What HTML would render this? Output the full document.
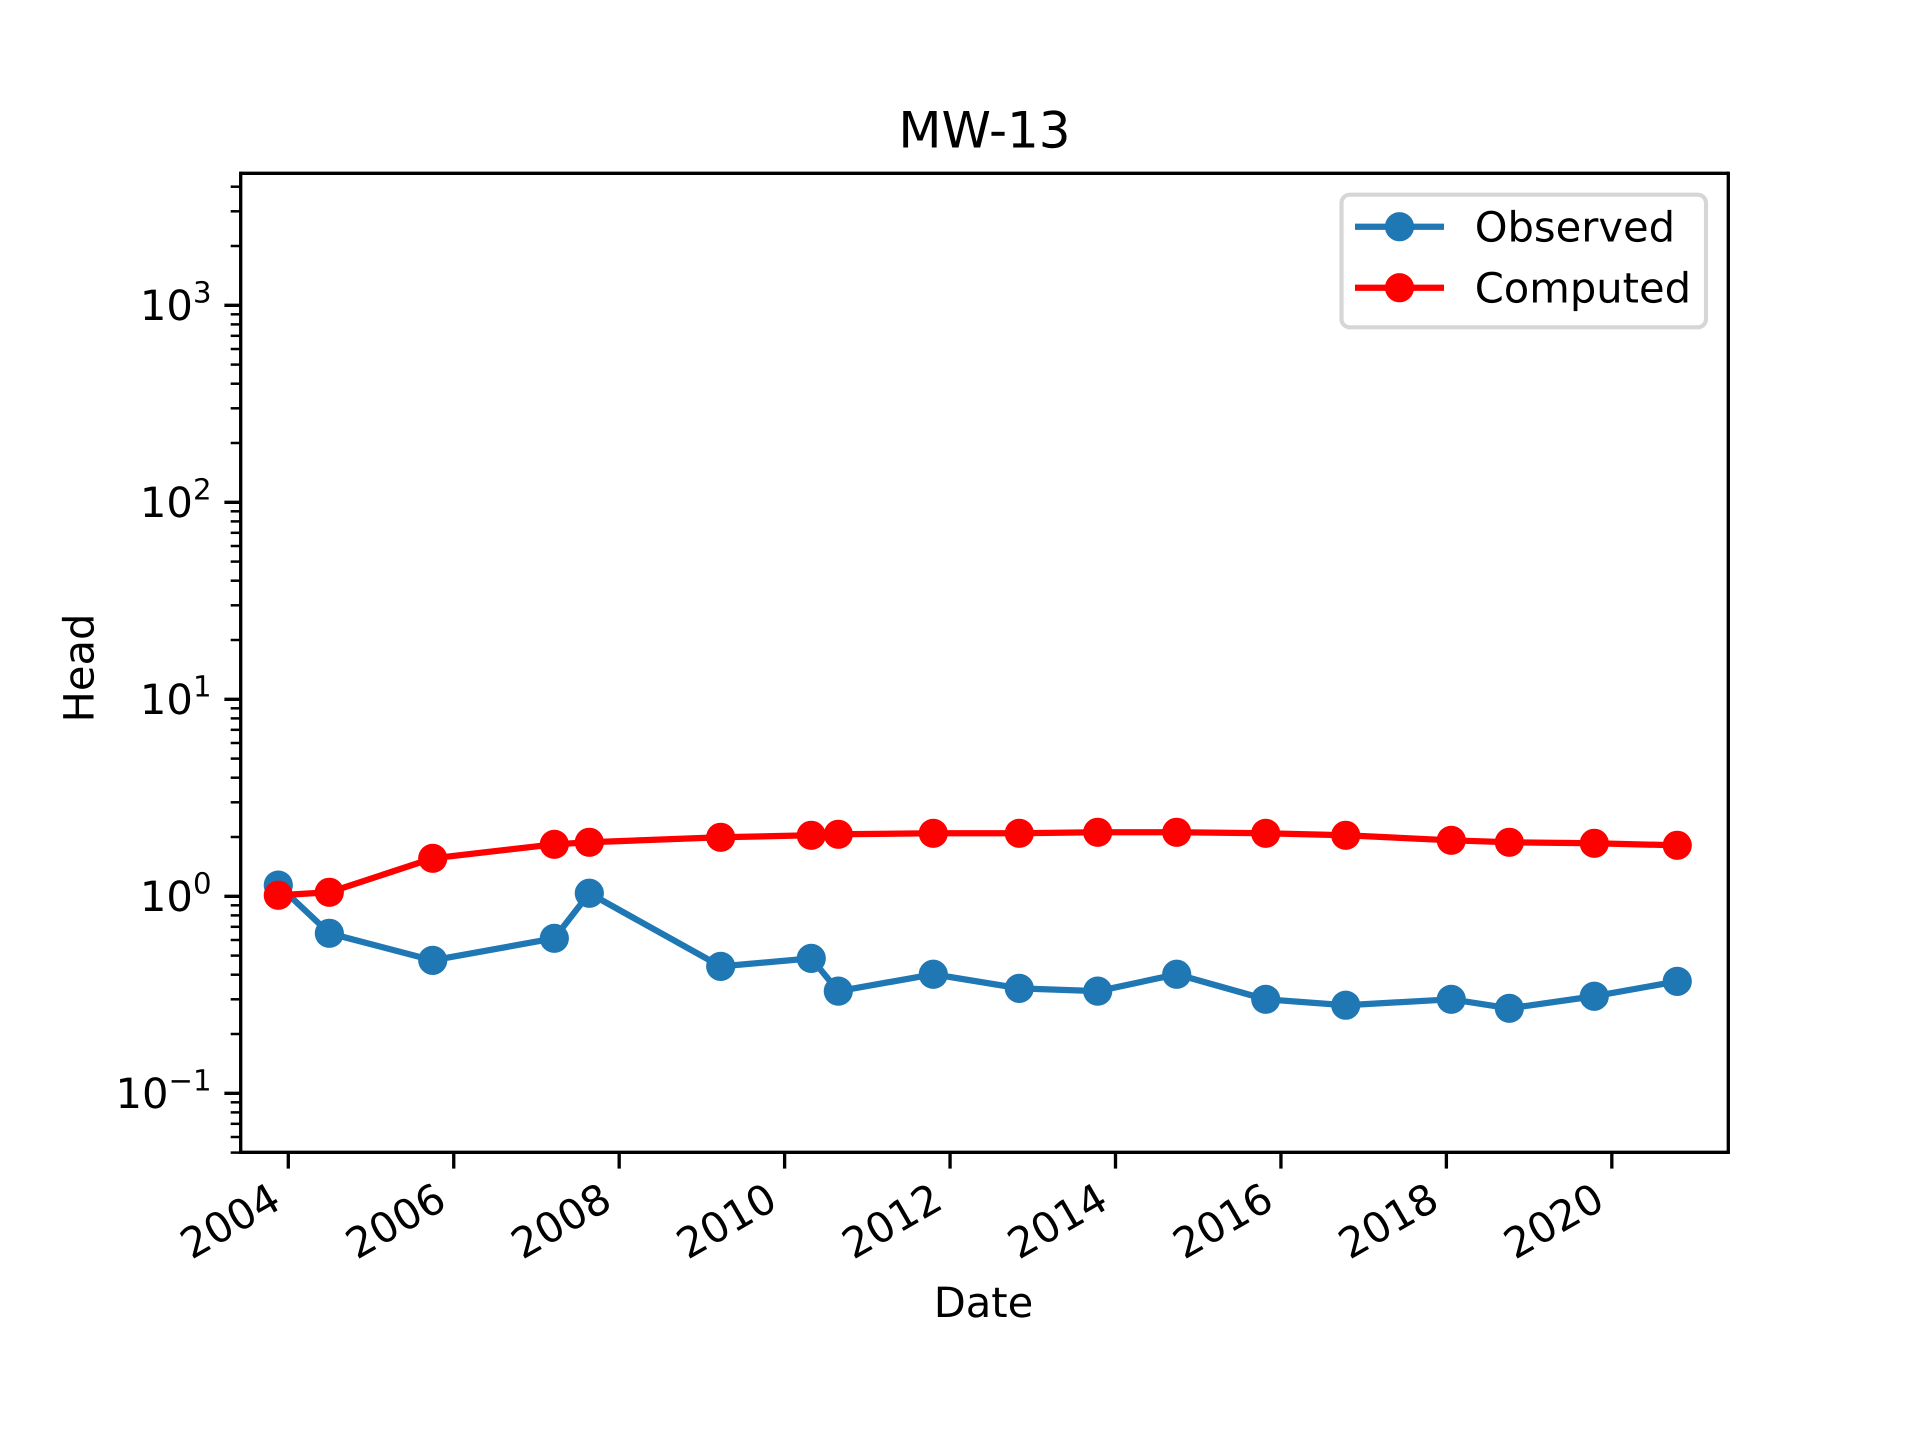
<!DOCTYPE html>
<html lang="en">
<head>
<meta charset="utf-8">
<title>MW-13</title>
<style>
html,body{margin:0;padding:0;background:#fff;width:1920px;height:1440px;overflow:hidden}
svg{display:block}
text{font-family:"DejaVu Sans","Liberation Sans",sans-serif;fill:#000;text-rendering:geometricPrecision}
</style>
</head>
<body>
<svg id="chart" xmlns="http://www.w3.org/2000/svg" width="1920" height="1440" viewBox="0 0 1920 1440">
  <rect x="0" y="0" width="1920" height="1440" fill="#ffffff"/>
  <g id="marks"></g>
  <g id="axes"></g>
  <text x="984.5" y="147.7" font-size="50" text-anchor="middle">MW-13</text>
  <text x="983.5" y="1317" font-size="41.67" text-anchor="middle">Date</text>
  <text transform="translate(93.3 668) rotate(-90)" font-size="41.67" text-anchor="middle">Head</text>
  <g>
    <rect x="1341.5" y="194.7" width="364.5" height="132.6" rx="8.33" ry="8.33" fill="#ffffff" fill-opacity="0.8" stroke="#cccccc" stroke-opacity="0.8" stroke-width="4.17"/>
    <g>
      <line x1="1355" y1="226.7" x2="1444" y2="226.7" stroke="#1f77b4" stroke-width="6.25"/>
      <circle cx="1399.5" cy="226.7" r="14.6" fill="#1f77b4"/>
      <text x="1474.7" y="241.7" font-size="41.67">Observed</text>
    </g>
    <g>
      <line x1="1355" y1="287.7" x2="1444" y2="287.7" stroke="#ff0000" stroke-width="6.25"/>
      <circle cx="1399.5" cy="287.7" r="14.6" fill="#ff0000"/>
      <text x="1474.7" y="302.7" font-size="41.67">Computed</text>
    </g>
  </g>
</svg>
<script>
const dates = [2003.879,2004.496,2005.746,2007.216,2007.639,2009.227,2010.322,2010.649,2011.797,2012.837,2013.785,2014.740,2015.816,2016.783,2018.059,2018.761,2019.788,2020.791];
const observed = [1.14,0.649,0.473,0.612,1.036,0.441,0.484,0.330,0.402,0.341,0.330,0.402,0.300,0.280,0.300,0.270,0.311,0.370];
const computed = [1.012,1.048,1.559,1.836,1.880,1.993,2.04,2.064,2.088,2.088,2.113,2.113,2.088,2.04,1.924,1.880,1.858,1.815];
const xTickYears = [2004,2006,2008,2010,2012,2014,2016,2018,2020];
const xTickLabels = ["2004","2006","2008","2010","2012","2014","2016","2018","2020"];
const yTickExponents = [-1,0,1,2,3];
const yTickLabels = ["\u22121","0","1","2","3"];
const yMinorValues = [0.05,0.06,0.07,0.08,0.09,0.2,0.3,0.4,0.5,0.6,0.7,0.8,0.9,2,3,4,5,6,7,8,9,20,30,40,50,60,70,80,90,200,300,400,500,600,700,800,900,2000,3000,4000];

const NS = 'http://www.w3.org/2000/svg';
const plot = {left:240.7,right:1728.3,top:173.3,bottom:1152.3};
function xScale(year){ return 288.3 + (year - 2004) * 82.72; }
function yScale(value){ return 896.3 - Math.log10(value) * 197; }
function make(tag, attrs, parent){
  const el = document.createElementNS(NS, tag);
  for (const k in attrs) el.setAttribute(k, attrs[k]);
  parent.appendChild(el);
  return el;
}
const marks = document.getElementById('marks');
const axes = document.getElementById('axes');

function drawSeries(name, values, color){
  const group = make('g', {}, marks);
  
  
  const pts = values.map((v,i) => xScale(dates[i]).toFixed(2) + ',' + yScale(v).toFixed(2)).join(' ');
  const line = make('polyline', {points:pts, fill:'none', stroke:color, 'stroke-width':6.25, 'stroke-linejoin':'round', 'stroke-linecap':'square'}, group);
  
  
  values.forEach((v,i) => {
    const c = make('circle', {cx:xScale(dates[i]).toFixed(2), cy:yScale(v).toFixed(2), r:14.6, fill:color}, group);
    
    
  });
}
drawSeries('observed', observed, '#1f77b4');
drawSeries('computed', computed, '#ff0000');

const spines = [
  ['spine-left', plot.left, plot.top-1.67, plot.left, plot.bottom+1.67],
  ['spine-right', plot.right, plot.top-1.67, plot.right, plot.bottom+1.67],
  ['spine-top', plot.left, plot.top, plot.right, plot.top],
  ['spine-bottom', plot.left, plot.bottom, plot.right, plot.bottom]
];
spines.forEach(s => {
  const l = make('line', {x1:s[1], y1:s[2], x2:s[3], y2:s[4], stroke:'#000', 'stroke-width':3.33}, axes);
  
  
});

xTickYears.forEach((yr,i) => {
  const x = xScale(yr);
  const t = make('line', {x1:x, y1:plot.bottom, x2:x, y2:plot.bottom+16.3, stroke:'#000', 'stroke-width':3.33}, axes);
  
  
  const lab = make('text', {transform:'translate(' + (x-5) + ' 1207) rotate(-30)', 'font-size':41.67, 'text-anchor':'end'}, axes);
  lab.textContent = xTickLabels[i];
  
  
});

yMinorValues.forEach(v => {
  const y = yScale(v);
  const t = make('line', {x1:plot.left-10, y1:y, x2:plot.left, y2:y, stroke:'#000', 'stroke-width':2.5}, axes);
  
  
});

yTickExponents.forEach((e,i) => {
  const y = yScale(Math.pow(10,e));
  const t = make('line', {x1:plot.left-16.3, y1:y, x2:plot.left, y2:y, stroke:'#000', 'stroke-width':3.33}, axes);
  
  
  const lab = make('text', {x:211.5, y:y+14.7, 'font-size':41.67, 'text-anchor':'end'}, axes);
  
  
  lab.appendChild(document.createTextNode('10'));
  const sup = make('tspan', {dy:-17.3, 'font-size':29.17}, lab);
  sup.textContent = yTickLabels[i];
});
</script>
</body>
</html>
